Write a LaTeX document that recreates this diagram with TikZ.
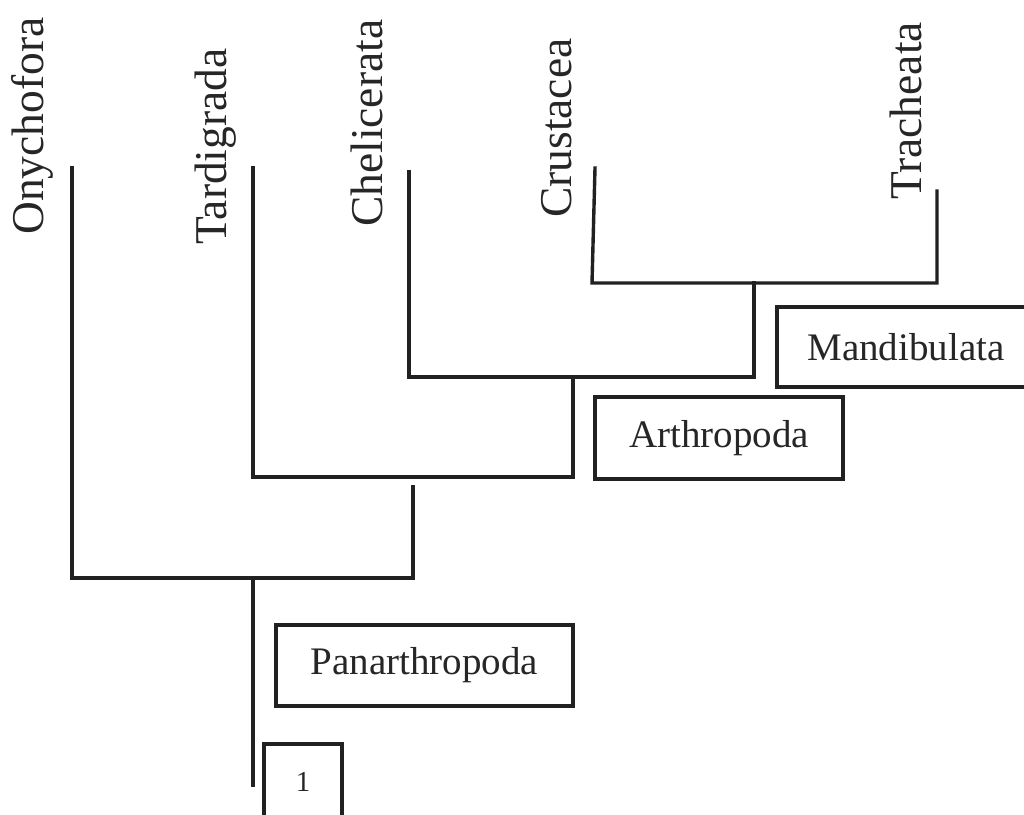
\documentclass[tikz,border=0pt]{standalone}
\usepackage{fontspec}
\setmainfont{Liberation Serif}
\begin{document}
\begin{tikzpicture}[x=1pt,y=1pt,
  branch/.style={draw=black!87, line width=3.4pt, line join=miter, line cap=rect},
  taxon/.style={rotate=90, anchor=base west, inner sep=0pt,
    font=\fontsize{45.5}{50}\selectfont, text=black!85},
  clade/.style={draw=black!87, line width=3.4pt, inner sep=0pt,
    font=\fontsize{39}{44}\selectfont, text=black!85}]
\useasboundingbox (0,0) rectangle (1024,-814);

% taxon names along the top
\node[taxon] (ony) at (43,-235) {Onychofora};
\node[taxon] (tar) at (226,-245) {Tardigrada};
\node[taxon] (che) at (382,-227) {Chelicerata};
\node[taxon] (cru) at (571,-218) {Crustacea};
\node[taxon] (tra) at (921,-200) {Tracheata};

% branch tips
\coordinate (tOny) at (72,-168);
\coordinate (tTar) at (253,-168);
\coordinate (tChe) at (409,-172);
\coordinate (tCru) at (595,-168);
\coordinate (tTra) at (937,-191);

% internal nodes
\coordinate (nMan) at (754,-283);
\coordinate (nArt) at (573,-377);
\coordinate (nTac) at (413,-477);
\coordinate (nPan) at (253,-578);
\coordinate (root) at (253,-785);

% tree
\draw[branch] (tCru) -- (592,-283) -- (tTra |- nMan) -- (tTra);
\draw[branch] (nMan) -- (nMan |- nArt) -- (tChe |- nArt) -- (tChe);
\draw[branch] (nArt) -- (nArt |- nTac) -- (tTar |- nTac) -- (tTar);
\draw[branch] (nTac |- 0,-487) -- (nTac |- nPan) -- (tOny |- nPan) -- (tOny);
\draw[branch] (nPan) -- (root);

% clade labels
\node[clade, minimum width=258pt, minimum height=80pt] (man) at (906,-347) {Mandibulata};
\node[clade, minimum width=248pt, minimum height=82pt] (art) at (719,-438) {Arthropoda};
\node[clade, minimum width=297pt, minimum height=81pt] (pan) at (424.5,-665.5) {Panarthropoda};
\node[clade, minimum width=78pt, minimum height=76pt, font=\fontsize{29}{32}\selectfont] (one) at (303,-782) {1};
\end{tikzpicture}
\end{document}
